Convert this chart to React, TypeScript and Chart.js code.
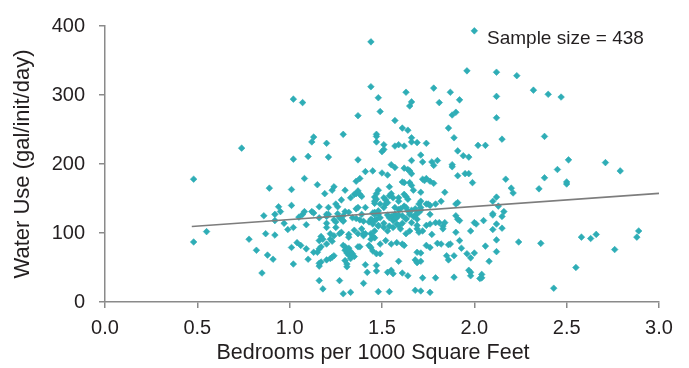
import React, { useEffect, useRef } from "react";
import { Chart, registerables } from "chart.js";

Chart.register(...registerables);

// Bedrooms per 1000 sq ft (x) vs water use gal/unit/day (y)
const lowBand: [number, number][] = [
  [0.48, 178], [0.48, 87], [0.55, 102], [0.74, 223], [0.78, 91], [0.82, 75], [0.85, 42], [0.86, 125],
  [0.87, 99], [0.88, 68], [0.89, 165], [0.91, 62], [0.92, 97], [0.92, 118], [0.92, 127], [0.94, 138],
  [0.95, 131], [0.97, 114], [0.99, 105],
];

const band10: [number, number][] = [
  [1.01, 163], [1.01, 140], [1.01, 79], [1.02, 55], [1.02, 108], [1.02, 294], [1.02, 207], [1.07, 289],
  [1.04, 86], [1.05, 123], [1.06, 82], [1.07, 127], [1.08, 131], [1.08, 179], [1.09, 112], [1.09, 77],
  [1.10, 62], [1.10, 211], [1.12, 131], [1.12, 232], [1.13, 129], [1.13, 239], [1.13, 72], [1.15, 72],
  [1.15, 170], [1.16, 122], [1.16, 138], [1.16, 89], [1.16, 56], [1.16, 52], [1.16, 31], [1.16, 77],
  [1.17, 95], [1.17, 80], [1.18, 19], [1.18, 91], [1.17, 58], [1.19, 157], [1.20, 114], [1.20, 108],
  [1.20, 124], [1.20, 84], [1.20, 61], [1.20, 230], [1.21, 210], [1.21, 127], [1.20, 127], [1.21, 137],
  [1.22, 99],
];

const band12: [number, number][] = [
  [1.22, 91], [1.22, 63], [1.23, 88], [1.23, 65], [1.23, 162], [1.24, 67], [1.24, 96], [1.24, 167],
  [1.24, 119], [1.25, 142], [1.25, 116], [1.25, 108], [1.26, 138], [1.26, 128], [1.27, 99], [1.27, 31],
  [1.27, 122], [1.28, 101], [1.28, 148], [1.28, 120], [1.29, 243], [1.29, 12], [1.29, 82], [1.29, 117],
  [1.29, 125], [1.29, 118], [1.30, 162], [1.30, 80], [1.30, 60], [1.30, 75], [1.30, 131], [1.31, 71],
  [1.31, 55], [1.31, 51], [1.32, 98], [1.32, 78], [1.32, 68], [1.32, 130], [1.32, 94], [1.33, 151],
  [1.33, 73], [1.33, 14], [1.33, 63], [1.34, 70], [1.34, 122], [1.35, 104], [1.35, 66], [1.35, 156],
  [1.36, 175], [1.36, 157], [1.36, 135], [1.36, 121], [1.37, 270], [1.37, 161], [1.37, 206], [1.37, 80],
  [1.37, 137], [1.37, 99], [1.38, 179], [1.38, 156], [1.38, 119], [1.38, 80], [1.39, 153], [1.39, 106],
  [1.39, 127], [1.40, 99], [1.40, 117], [1.40, 96], [1.40, 27],
];

const band14: [number, number][] = [
  [1.41, 189], [1.41, 137], [1.41, 54], [1.41, 99], [1.42, 43], [1.43, 82], [1.43, 116], [1.44, 377],
  [1.44, 312], [1.44, 91], [1.44, 99], [1.44, 79], [1.44, 120], [1.45, 190], [1.45, 118], [1.45, 129],
  [1.45, 95], [1.45, 74], [1.45, 113], [1.46, 152], [1.46, 143], [1.46, 93], [1.46, 130], [1.46, 118],
  [1.46, 127], [1.46, 146], [1.46, 103], [1.47, 243], [1.47, 240], [1.47, 232], [1.47, 157], [1.47, 149],
  [1.47, 70], [1.47, 53], [1.47, 45], [1.47, 120], [1.48, 162], [1.48, 296], [1.48, 127], [1.48, 110],
  [1.48, 15], [1.48, 132], [1.48, 111], [1.49, 276], [1.49, 142], [1.49, 84], [1.49, 70], [1.49, 122],
];

const band15: [number, number][] = [
  [1.50, 187], [1.50, 218], [1.51, 228], [1.51, 221], [1.51, 151], [1.51, 137], [1.51, 108], [1.52, 148],
  [1.52, 142], [1.51, 114], [1.52, 89], [1.53, 184], [1.53, 126], [1.53, 43], [1.53, 144], [1.53, 103],
  [1.54, 167], [1.54, 154], [1.54, 15], [1.54, 110], [1.54, 122], [1.55, 199], [1.55, 157], [1.55, 84],
  [1.55, 124], [1.55, 46], [1.56, 151], [1.56, 108], [1.56, 41], [1.56, 118], [1.57, 195], [1.57, 263],
  [1.57, 226], [1.57, 137], [1.57, 121], [1.57, 127], [1.58, 86], [1.58, 113], [1.58, 122], [1.59, 228],
  [1.59, 151], [1.59, 126], [1.59, 111], [1.59, 59], [1.59, 134], [1.59, 146],
];

const band16: [number, number][] = [
  [1.60, 135], [1.60, 106], [1.61, 174], [1.61, 252], [1.61, 114], [1.61, 84], [1.61, 42], [1.61, 125],
  [1.62, 194], [1.62, 226], [1.62, 173], [1.62, 156], [1.62, 82], [1.62, 139], [1.63, 304], [1.63, 153],
  [1.63, 137], [1.63, 121], [1.63, 99], [1.63, 120], [1.64, 192], [1.64, 249], [1.64, 38], [1.64, 132],
  [1.64, 149], [1.65, 190], [1.65, 284], [1.65, 173], [1.65, 127], [1.65, 103], [1.66, 186], [1.66, 238],
  [1.66, 232], [1.66, 169], [1.66, 290], [1.66, 205], [1.66, 133], [1.66, 115], [1.67, 162], [1.67, 124],
  [1.68, 61], [1.68, 17], [1.68, 135], [1.68, 125], [1.69, 231], [1.69, 106], [1.69, 72], [1.69, 129],
  [1.69, 57], [1.69, 120], [1.69, 111],
];

const band17: [number, number][] = [
  [1.70, 101], [1.70, 142], [1.70, 130], [1.71, 213], [1.71, 146], [1.71, 159], [1.71, 71], [1.71, 59],
  [1.71, 16], [1.71, 133], [1.71, 137], [1.72, 178], [1.72, 203], [1.72, 35], [1.72, 103], [1.73, 176],
  [1.74, 230], [1.74, 179], [1.74, 111], [1.74, 82], [1.74, 142], [1.75, 142], [1.76, 175], [1.76, 140],
  [1.76, 79], [1.76, 14], [1.76, 127], [1.76, 113], [1.77, 203], [1.77, 98], [1.78, 310], [1.78, 172],
  [1.78, 198], [1.79, 142], [1.79, 115], [1.79, 35], [1.80, 205], [1.80, 85],
];

const band18: [number, number][] = [
  [1.81, 289], [1.81, 115], [1.82, 146], [1.82, 84], [1.83, 110], [1.83, 106], [1.84, 115], [1.84, 159],
  [1.85, 67], [1.86, 61], [1.86, 83], [1.86, 252], [1.87, 304], [1.87, 84], [1.88, 199], [1.88, 196],
  [1.88, 271], [1.89, 67], [1.89, 36], [1.89, 238],
];

const band19: [number, number][] = [
  [1.90, 275], [1.90, 101], [1.90, 142], [1.90, 125], [1.91, 219], [1.91, 183], [1.91, 120], [1.91, 144],
  [1.92, 293], [1.92, 118], [1.92, 89], [1.93, 78], [1.94, 212], [1.95, 186], [1.96, 70], [1.96, 335],
  [1.97, 210], [1.97, 186], [1.97, 46], [1.98, 64], [1.98, 43], [1.98, 38], [1.98, 103], [1.99, 173],
  [2.00, 393], [2.00, 115], [2.00, 71],
];

const highBand: [number, number][] = [
  [2.01, 113], [2.02, 227], [2.04, 40], [2.03, 34], [2.04, 35], [2.05, 118], [2.06, 227], [2.06, 81],
  [2.08, 59], [2.10, 146], [2.10, 128], [2.10, 126], [2.10, 105], [2.12, 333], [2.12, 298], [2.12, 267],
  [2.12, 152], [2.12, 113], [2.12, 90], [2.12, 73], [2.13, 139], [2.15, 236], [2.15, 124], [2.15, 107],
  [2.16, 131], [2.17, 178], [2.20, 165], [2.21, 158], [2.23, 328], [2.24, 87], [2.32, 307], [2.35, 164],
  [2.36, 85], [2.38, 240], [2.38, 180], [2.40, 301], [2.43, 20], [2.45, 192], [2.47, 297], [2.50, 174],
  [2.50, 171], [2.51, 206], [2.55, 50], [2.58, 94], [2.63, 92], [2.66, 98], [2.71, 202], [2.76, 76],
  [2.79, 190], [2.88, 94], [2.89, 103],
];

const trendStart: [number, number] = [0.47, 109.5];
const trendEnd: [number, number] = [3.0, 157.5];

const xTicks = [0, 0.5, 1.0, 1.5, 2.0, 2.5, 3.0];
const yTicks = [0, 100, 200, 300, 400];
const xTitle = "Bedrooms per 1000 Square Feet";
const yTitle = "Water Use (gal/init/day)";
const sampleNote = "Sample size = 438";

const FONT = "'Liberation Sans', Arial, Helvetica, sans-serif";
const TEAL = "#2eadb6";
const AXIS = "#8a8a8a";
const TEXT = "#231f20";

export default function App() {
  const ref = useRef<HTMLCanvasElement | null>(null);

  useEffect(() => {
    if (!ref.current) return;
    const all = [
      ...lowBand, ...band10, ...band12, ...band14, ...band15,
      ...band16, ...band17, ...band18, ...band19, ...highBand,
    ];
    const textPlugin = {
      id: "texts",
      afterDraw(chart: any) {
        const ctx = chart.ctx;
        const area = chart.chartArea;
        ctx.save();
        ctx.fillStyle = TEXT;
        // sample size note
        ctx.font = `19px ${FONT}`;
        ctx.textBaseline = "alphabetic";
        ctx.textAlign = "left";
        ctx.fillText(sampleNote, 487, 44);
        // x axis title
        ctx.font = `21.5px ${FONT}`;
        ctx.textAlign = "center";
        ctx.textBaseline = "middle";
        ctx.fillText(xTitle, 373, 353);
        // y axis title
        ctx.translate(23, (area.top + area.bottom) / 2);
        ctx.rotate(-Math.PI / 2);
        ctx.font = `22px ${FONT}`;
        ctx.fillText(yTitle, 0, 0);
        ctx.restore();
      },
    };
    const chart = new Chart(ref.current, {
      type: "scatter",
      data: {
        datasets: [
          {
            type: "line",
            data: [
              { x: trendStart[0], y: trendStart[1] },
              { x: trendEnd[0], y: trendEnd[1] },
            ],
            borderColor: "#7d7d7d",
            borderWidth: 1.6,
            pointRadius: 0,
            fill: false,
            order: 0,
          } as any,
          {
            type: "scatter",
            data: all.map(([x, y]) => ({ x, y })),
            pointStyle: "rectRot",
            pointRadius: 3.3,
            backgroundColor: TEAL,
            borderColor: TEAL,
            borderWidth: 0.6,
            order: 1,
          } as any,
        ],
      },
      options: {
        responsive: false,
        animation: false,
        events: [],
        layout: { padding: { left: 0, right: 30, top: 24, bottom: 0 } },
        plugins: {
          legend: { display: false },
          tooltip: { enabled: false },
        },
        scales: {
          x: {
            type: "linear",
            min: 0,
            max: 3,
            afterBuildTicks: (s: any) => {
              s.ticks = xTicks.map((v) => ({ value: v }));
            },
            afterFit: (s: any) => {
              s.height = 66;
            },
            ticks: {
              font: { family: FONT, size: 20 },
              color: TEXT,
              padding: 8,
              maxRotation: 0,
              callback: (v: any) => Number(v).toFixed(1),
            },
            grid: {
              display: true,
              drawOnChartArea: false,
              drawTicks: true,
              tickLength: 6,
              color: AXIS,
              lineWidth: 1.5,
            },
            border: { display: true, color: AXIS, width: 1.5 },
            title: { display: false },
          },
          y: {
            type: "linear",
            min: 0,
            max: 400,
            afterBuildTicks: (s: any) => {
              s.ticks = yTicks.map((v) => ({ value: v }));
            },
            afterFit: (s: any) => {
              s.width = 105;
            },
            ticks: {
              font: { family: FONT, size: 20 },
              color: TEXT,
              padding: 14,
              callback: (v: any) => String(v),
            },
            grid: {
              display: true,
              drawOnChartArea: false,
              drawTicks: true,
              tickLength: 6,
              color: AXIS,
              lineWidth: 1.5,
            },
            border: { display: true, color: AXIS, width: 1.5 },
            title: { display: false },
          },
        },
      },
      plugins: [textPlugin],
    } as any);
    return () => chart.destroy();
  }, []);

  return (
    <div style={{ position: "fixed", left: 0, top: 0, width: 689, height: 368, background: "#fff" }}>
      <canvas ref={ref} width={689} height={368} style={{ display: "block" }} />
    </div>
  );
}
